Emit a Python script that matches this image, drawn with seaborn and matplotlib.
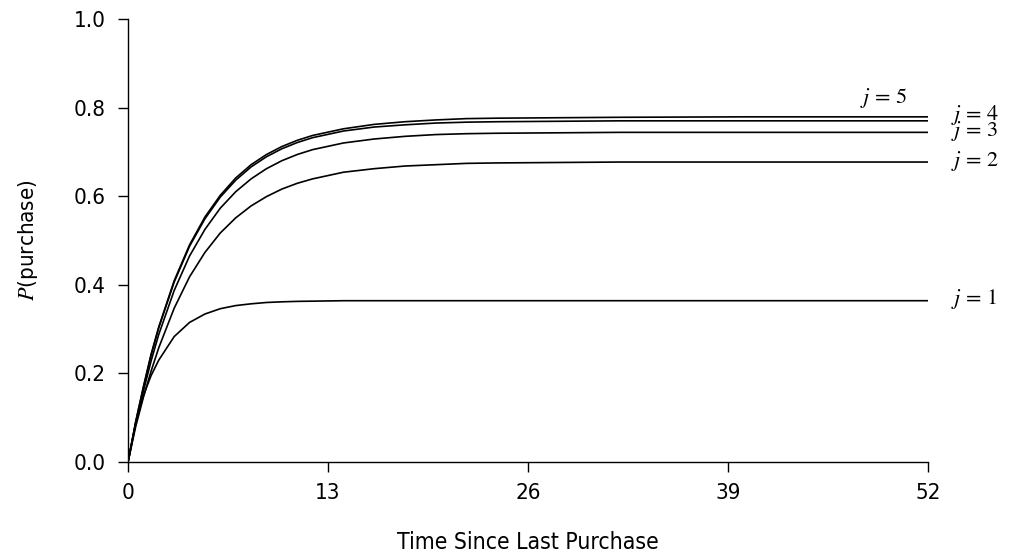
import matplotlib
matplotlib.use("Agg")
import matplotlib.pyplot as plt
import seaborn as sns
import pandas as pd
import numpy as np

# Time since last purchase (weeks)
times = [0, 0.5, 1, 1.5, 2, 3, 4, 5, 6, 7, 8, 9, 10, 11, 12, 14, 16, 18, 20, 22, 24, 28, 32, 40, 52]

# P(purchase), one list per curve j
p_j1 = [0, 0.088, 0.150, 0.195, 0.230, 0.283, 0.315, 0.334, 0.346, 0.353, 0.357, 0.360, 0.3615,
        0.3625, 0.363, 0.364, 0.364, 0.364, 0.364, 0.364, 0.364, 0.364, 0.364, 0.364, 0.364]
p_j2 = [0, 0.080, 0.146, 0.205, 0.258, 0.347, 0.418, 0.473, 0.517, 0.551, 0.578, 0.599, 0.616,
        0.629, 0.639, 0.654, 0.662, 0.668, 0.671, 0.674, 0.675, 0.676, 0.677, 0.677, 0.677]
p_j3 = [0, 0.086, 0.160, 0.228, 0.288, 0.387, 0.465, 0.525, 0.573, 0.610, 0.639, 0.662, 0.680,
        0.694, 0.705, 0.720, 0.729, 0.735, 0.739, 0.741, 0.742, 0.743, 0.744, 0.744, 0.744]
p_j4 = [0, 0.090, 0.168, 0.241, 0.303, 0.406, 0.487, 0.549, 0.598, 0.636, 0.666, 0.689, 0.707,
        0.721, 0.732, 0.747, 0.756, 0.761, 0.765, 0.767, 0.768, 0.769, 0.770, 0.770, 0.770]
p_j5 = [0, 0.091, 0.170, 0.243, 0.305, 0.409, 0.490, 0.553, 0.602, 0.641, 0.671, 0.694, 0.712,
        0.726, 0.737, 0.752, 0.762, 0.768, 0.772, 0.775, 0.776, 0.777, 0.778, 0.779, 0.779]

curve_names = ["j = 1", "j = 2", "j = 3", "j = 4", "j = 5"]
label_math = [r"$j\,=\,1$", r"$j\,=\,2$", r"$j\,=\,3$", r"$j\,=\,4$", r"$j\,=\,5$"]
label_x = [53.5, 53.5, 53.5, 53.5, 47.6]
label_y = [0.368, 0.679, 0.746, 0.784, 0.822]

xticks = [0, 13, 26, 39, 52]
yticks = [0.0, 0.2, 0.4, 0.6, 0.8, 1.0]

series = [p_j1, p_j2, p_j3, p_j4, p_j5]
df = pd.concat([
    pd.DataFrame({"t": times, "p": s, "j": name})
    for s, name in zip(series, curve_names)
], ignore_index=True)

sns.set_theme(style="ticks")
plt.rcParams["mathtext.fontset"] = "stix"
plt.rcParams["font.family"] = ["DejaVu Sans"]
plt.rcParams["text.color"] = "black"
plt.rcParams["axes.labelcolor"] = "black"

fig = plt.figure(figsize=(10.12, 5.57), dpi=100)
ax = fig.add_axes([0.1265, 0.1706, 0.7905, 0.7954])

sns.lineplot(data=df, x="t", y="p", hue="j", palette=["black"] * 5,
             linewidth=1.2, legend=False, ax=ax, estimator=None)

ax.set_xlim(0, 52)
ax.set_ylim(0, 1.0)
ax.set_xticks(xticks)
ax.set_yticks(yticks)
ax.set_yticklabels([f"{v:.1f}" for v in yticks])
ax.set_xticklabels([str(v) for v in xticks])
sns.despine(ax=ax)
for sp in ["left", "bottom"]:
    ax.spines[sp].set_linewidth(1.0)
    ax.spines[sp].set_color("black")
ax.tick_params(axis="both", direction="out", length=7, width=1.0, colors="black")
ax.tick_params(axis="y", labelsize=16, pad=9)
ax.tick_params(axis="x", labelsize=16, pad=8)
for lab in ax.get_xticklabels() + ax.get_yticklabels():
    lab.set_fontstretch("condensed")

ax.set_xlabel("Time Since Last Purchase", fontsize=16.5, labelpad=20,
              fontstretch="condensed")
ax.set_ylabel(r"$P$(purchase)", fontsize=16, labelpad=24, fontstretch="condensed")

for txt, lx, ly in zip(label_math, label_x, label_y):
    ax.text(lx, ly, txt, fontsize=16, ha="left", va="center", clip_on=False, color="black")

fig.savefig("out.png", dpi=100)
